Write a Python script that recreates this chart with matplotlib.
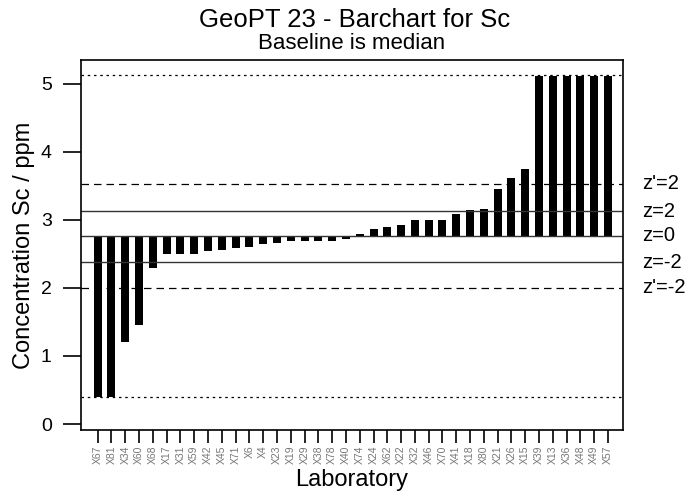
import numpy as np
import matplotlib.pyplot as plt

plt.rcParams['font.family'] = ['Liberation Sans', 'DejaVu Sans']

# laboratories, sorted by reported Sc value
labs = ["X67", "X81", "X34", "X60", "X68", "X17", "X31", "X59", "X42", "X45",
        "X71", "X6", "X4", "X23", "X19", "X29", "X38", "X78", "X40", "X74",
        "X24", "X62", "X22", "X32", "X46", "X70", "X41", "X18", "X80", "X21",
        "X26", "X15", "X39", "X13", "X36", "X48", "X49", "X57"]
values = [0.40, 0.40, 1.21, 1.46, 2.29, 2.50, 2.50, 2.50, 2.55, 2.56,
          2.59, 2.60, 2.65, 2.66, 2.69, 2.69, 2.69, 2.69, 2.72, 2.80,
          2.87, 2.90, 2.92, 3.00, 3.00, 3.00, 3.09, 3.14, 3.16, 3.46,
          3.61, 3.75, 5.12, 5.12, 5.12, 5.12, 5.12, 5.12]

median = 2.765
z_lines = [3.13, 2.765, 2.38]          # z=2, z=0, z=-2
zp_lines = [3.53, 2.00]                # z'=2, z'=-2
clip_lines = [5.13, 0.40]              # plotting limits
right_labels = ["z'=2", "z=2", "z=0", "z=-2", "z'=-2"]
right_pos = [3.53, 3.13, 2.765, 2.38, 2.00]

fig = plt.figure(figsize=(6.89, 4.93), dpi=100)
ax = fig.add_axes([81 / 689, 1 - 430 / 493, 542 / 689, 370 / 493])

x = np.arange(len(labs))
vals = np.array(values)
ax.bar(x, vals - median, bottom=median, width=0.58, color='black')

for y in clip_lines:
    ax.axhline(y, color='black', lw=0.9, ls=(0, (2, 3)))
for y in zp_lines:
    ax.axhline(y, color='black', lw=0.9, ls=(0, (6, 4)))
for y in z_lines:
    ax.axhline(y, color='#333333', lw=1.0)

for lab, y in zip(right_labels, right_pos):
    ax.text(1.036, y, lab, transform=ax.get_yaxis_transform(), fontsize=14.5,
            va='center', ha='left', clip_on=False)

ax.set_xlim(-1.21, 38.09)
ax.set_ylim(-0.088, 5.35)
ax.set_yticks(range(0, 6))
ax.tick_params(axis='y', labelsize=14, length=13, width=1.2, pad=8)
ax.set_xticks(x)
ax.set_xticklabels(labs, rotation=90, fontsize=7.5, color='#777777')
ax.tick_params(axis='x', length=9, width=1.2, pad=2)
for s in ax.spines.values():
    s.set_linewidth(1.2)

ax.set_ylabel("Concentration Sc / ppm", fontsize=17)
ax.set_xlabel("Laboratory", fontsize=17, labelpad=4)

fig.text(0.515, 0.945, "GeoPT 23 - Barchart for Sc", fontsize=18.5,
         ha='center', va='baseline')
fig.text(0.51, 0.9, "Baseline is median", fontsize=16,
         ha='center', va='baseline')

fig.savefig("out.png", dpi=100)
